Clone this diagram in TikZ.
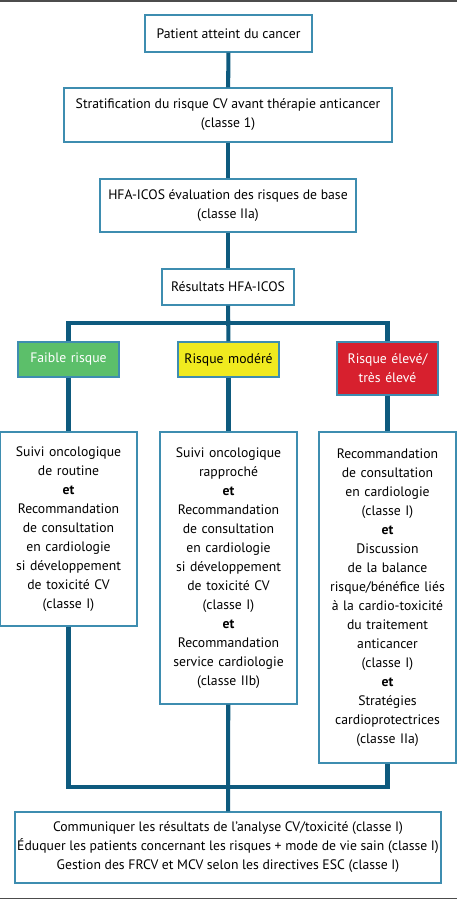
\documentclass[tikz,border=0pt]{standalone}
\usepackage{fontspec}
\setmainfont{PT Sans}
\usetikzlibrary{calc}
\definecolor{linkblue}{HTML}{0E5A7E}
\definecolor{boxblue}{HTML}{3E8DB0}
\definecolor{lowgreen}{HTML}{5CBF6A}
\definecolor{midyellow}{HTML}{F0EA1F}
\definecolor{highred}{HTML}{D7202E}
\tikzstyle{box}=[rectangle,draw=boxblue,line width=0.8pt,fill=white,align=center,inner sep=0pt,font=\fontsize{7.8}{10.8}\selectfont]
\tikzstyle{riskbox}=[box,text width=101*0.02cm,minimum width=101*0.02cm]
\tikzstyle{link}=[draw=linkblue,line width=2.3pt]
\tikzstyle{rule}=[draw=black!70,line width=0.8pt]

\begin{document}
\begin{tikzpicture}[x=0.02cm,y=-0.02cm]
\useasboundingbox (0,0) rectangle (457,900);

\draw[rule] (0,0.8) -- (457,0.8);
\draw[rule] (0,898.5) -- (457,898.5);

%chain
\node[box,minimum width=167*0.02cm,minimum height=37*0.02cm] (patient) at (228.5,33.5) {Patient atteint du cancer};
\node[box,minimum width=328*0.02cm,minimum height=54*0.02cm] (strat) at (228,115) {Stratification du risque CV avant thérapie anticancer\\(classe 1)};
\node[box,minimum width=256*0.02cm,minimum height=53*0.02cm] (hfa) at (228,205.5) {HFA-ICOS évaluation des risques de base\\(classe IIa)};
\node[box,minimum width=132*0.02cm,minimum height=36*0.02cm] (res) at (228,287) {Résultats HFA-ICOS};

%risk levels
\node[riskbox,fill=lowgreen,text=white,minimum height=35*0.02cm] (faible) at (68.5,359.5) {Faible risque};
\node[riskbox,fill=midyellow,text=black,minimum height=35*0.02cm] (modere) at (228.5,359.5) {Risque modéré};
\node[riskbox,fill=highred,text=white,minimum height=53*0.02cm] (eleve) at (387.5,368.5) {Risque élevé/\\très élevé};

%care
\node[box,text width=137*0.02cm,minimum height=194*0.02cm] (suiviA) at (68.5,529) {Suivi oncologique\\de routine\\\textbf{et}\\Recommandation\\de consultation\\en cardiologie\\si développement\\de toxicité CV\\(classe I)};
\node[box,text width=137*0.02cm,minimum height=272*0.02cm] (suiviB) at (228.5,568) {Suivi oncologique\\rapproché\\\textbf{et}\\Recommandation\\de consultation\\en cardiologie\\si développement\\de toxicité CV\\(classe I)\\\textbf{et}\\Recommandation\\service cardiologie\\(classe IIb)};
\node[box,text width=137*0.02cm,minimum height=331*0.02cm] (suiviC) at (387.5,597.5) {Recommandation\\de consultation\\en cardiologie\\(classe I)\\\textbf{et}\\Discussion\\de la balance\\risque/bénéfice liés\\à la cardio-toxicité\\du traitement\\anticancer\\(classe I)\\\textbf{et}\\Stratégies\\cardioprotectrices\\(classe IIa)};

\node[box,minimum width=426*0.02cm,minimum height=71*0.02cm] (final) at (228,847.5) {Communiquer les résultats de l’analyse CV/toxicité (classe I)\\Éduquer les patients concernant les risques + mode de vie sain (classe I)\\Gestion des FRCV et MCV selon les directives ESC (classe I)};

\coordinate (split) at (228,323);
\coordinate (merge) at (228,787);

% Connect boxes
\foreach \source/ \dest in {patient/strat, strat/hfa, hfa/res, res/modere, faible/suiviA, modere/suiviB, eleve/suiviC, suiviB/final}
    \path[link] (\source) -- (\dest);
\path[link,line join=miter] (faible) -- (faible |- split) -- (eleve |- split) -- (eleve);
\path[link,line join=miter] (suiviA) -- (suiviA |- merge) -- (suiviC |- merge) -- (suiviC);

\end{tikzpicture}
\end{document}
